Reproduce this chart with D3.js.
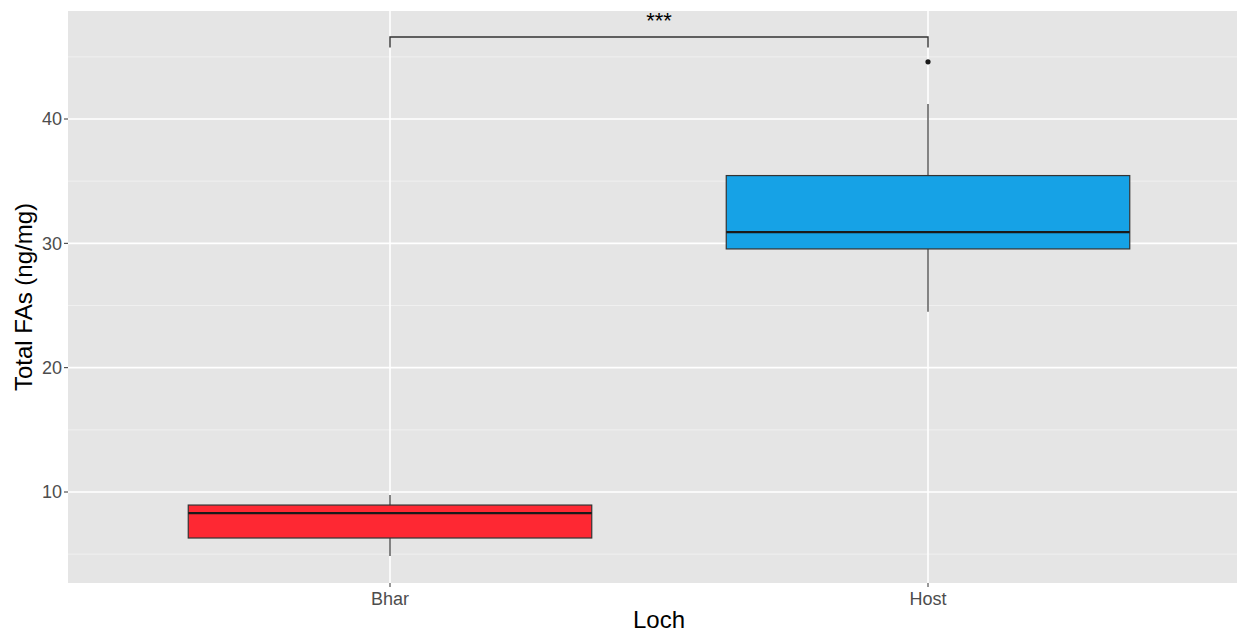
<!DOCTYPE html>
<html lang="en">
<head>
  <meta charset="UTF-8" />
  <title>Total FAs by Loch</title>
  <script src="https://d3js.org/d3.v7.min.js"></script>
  <style>
    body { margin: 0; background: #fff; font-family: 'Liberation Sans', Arial, sans-serif; }
    svg { display: block; }
    .tick-label { fill: #4d4d4d; font-size: 18px; }
    .axis-title { fill: #000; font-size: 24px; }
  </style>
</head>
<body>
  <svg id="chart" width="1238" height="632"></svg>
  <script>
    // Data
    const lochs = ["Bhar", "Host"];
    const lowerWhisker = [4.85, 24.5];
    const q1 = [6.3, 29.55];
    const median = [8.3, 30.9];
    const q3 = [8.95, 35.45];
    const upperWhisker = [9.76, 41.2];
    const outliers = [[], [44.6]];
    const fills = ["#fe2833", "#16a2e6"];
    const yTicks = [10, 20, 30, 40];
    const yMinor = [5, 15, 25, 35, 45];
    const sigLabel = "***";
    const sigY = 46.6, sigLegY = 45.75;

    const svg = d3.select("#chart");
    const panel = { left: 68, right: 1237, top: 11, bottom: 583 };

    const x = d3.scalePoint().domain(lochs).range([390, 928]);
    const boxW = 0.75 * (x("Host") - x("Bhar"));
    const y = d3.scaleLinear().domain([10, 40]).range([492, 119]);

    // panel background
    svg.append("rect")
      .attr("x", panel.left).attr("y", panel.top)
      .attr("width", panel.right - panel.left).attr("height", panel.bottom - panel.top)
      .attr("fill", "#e5e5e5");

    // grid
    svg.selectAll(".minor").data(yMinor).enter().append("line")
      .attr("x1", panel.left).attr("x2", panel.right)
      .attr("y1", d => y(d)).attr("y2", d => y(d))
      .attr("stroke", "#f2f2f2").attr("stroke-width", 0.8);
    svg.selectAll(".major").data(yTicks).enter().append("line")
      .attr("x1", panel.left).attr("x2", panel.right)
      .attr("y1", d => y(d)).attr("y2", d => y(d))
      .attr("stroke", "#fff").attr("stroke-width", 1.6);
    svg.selectAll(".vgrid").data(lochs).enter().append("line")
      .attr("x1", d => x(d)).attr("x2", d => x(d))
      .attr("y1", panel.top).attr("y2", panel.bottom)
      .attr("stroke", "#fff").attr("stroke-width", 1.6);

    // boxplots
    const boxes = svg.selectAll(".box").data(lochs).enter().append("g");
    boxes.append("line")
      .attr("x1", d => x(d)).attr("x2", d => x(d))
      .attr("y1", (d, i) => y(upperWhisker[i])).attr("y2", (d, i) => y(q3[i]))
      .attr("stroke", "#333").attr("stroke-width", 1.2);
    boxes.append("line")
      .attr("x1", d => x(d)).attr("x2", d => x(d))
      .attr("y1", (d, i) => y(q1[i])).attr("y2", (d, i) => y(lowerWhisker[i]))
      .attr("stroke", "#333").attr("stroke-width", 1.2);
    boxes.append("rect")
      .attr("x", d => x(d) - boxW / 2).attr("width", boxW)
      .attr("y", (d, i) => y(q3[i]))
      .attr("height", (d, i) => y(q1[i]) - y(q3[i]))
      .attr("fill", (d, i) => fills[i])
      .attr("stroke", "#333").attr("stroke-width", 1.2);
    boxes.append("line")
      .attr("x1", d => x(d) - boxW / 2).attr("x2", d => x(d) + boxW / 2)
      .attr("y1", (d, i) => y(median[i])).attr("y2", (d, i) => y(median[i]))
      .attr("stroke", "#1a1a1a").attr("stroke-width", 2.4);
    boxes.each(function (d, i) {
      d3.select(this).selectAll("circle").data(outliers[i]).enter().append("circle")
        .attr("cx", x(d)).attr("cy", v => y(v)).attr("r", 2.6).attr("fill", "#1a1a1a");
    });

    // significance bracket
    svg.append("path")
      .attr("d", `M${x("Bhar")},${y(sigLegY)}V${y(sigY)}H${x("Host")}V${y(sigLegY)}`)
      .attr("fill", "none").attr("stroke", "#333").attr("stroke-width", 1.4);
    svg.append("text")
      .attr("x", (x("Bhar") + x("Host")) / 2).attr("y", y(sigY) - 9)
      .attr("text-anchor", "middle").attr("font-size", "22px").attr("fill", "#000")
      .text(sigLabel);

    // y axis
    svg.selectAll(".ytick").data(yTicks).enter().append("line")
      .attr("x1", panel.left - 4).attr("x2", panel.left)
      .attr("y1", d => y(d)).attr("y2", d => y(d))
      .attr("stroke", "#333").attr("stroke-width", 1);
    svg.selectAll(".ylab").data(yTicks).enter().append("text")
      .attr("class", "tick-label")
      .attr("x", panel.left - 6).attr("y", d => y(d))
      .attr("dy", "0.35em").attr("text-anchor", "end")
      .text(d => d);

    // x axis
    svg.selectAll(".xtick").data(lochs).enter().append("line")
      .attr("x1", d => x(d)).attr("x2", d => x(d))
      .attr("y1", panel.bottom).attr("y2", panel.bottom + 4)
      .attr("stroke", "#333").attr("stroke-width", 1);
    svg.selectAll(".xlab").data(lochs).enter().append("text")
      .attr("class", "tick-label")
      .attr("x", d => x(d)).attr("y", panel.bottom + 22)
      .attr("text-anchor", "middle")
      .text(d => d);

    // axis titles
    svg.append("text").attr("class", "axis-title")
      .attr("x", x("Bhar") + (x("Host") - x("Bhar")) / 2).attr("y", 628)
      .attr("text-anchor", "middle").text("Loch");
    svg.append("text").attr("class", "axis-title")
      .attr("transform", `translate(32,${(panel.top + panel.bottom) / 2}) rotate(-90)`)
      .attr("text-anchor", "middle").text("Total FAs (ng/mg)");
  </script>
</body>
</html>
